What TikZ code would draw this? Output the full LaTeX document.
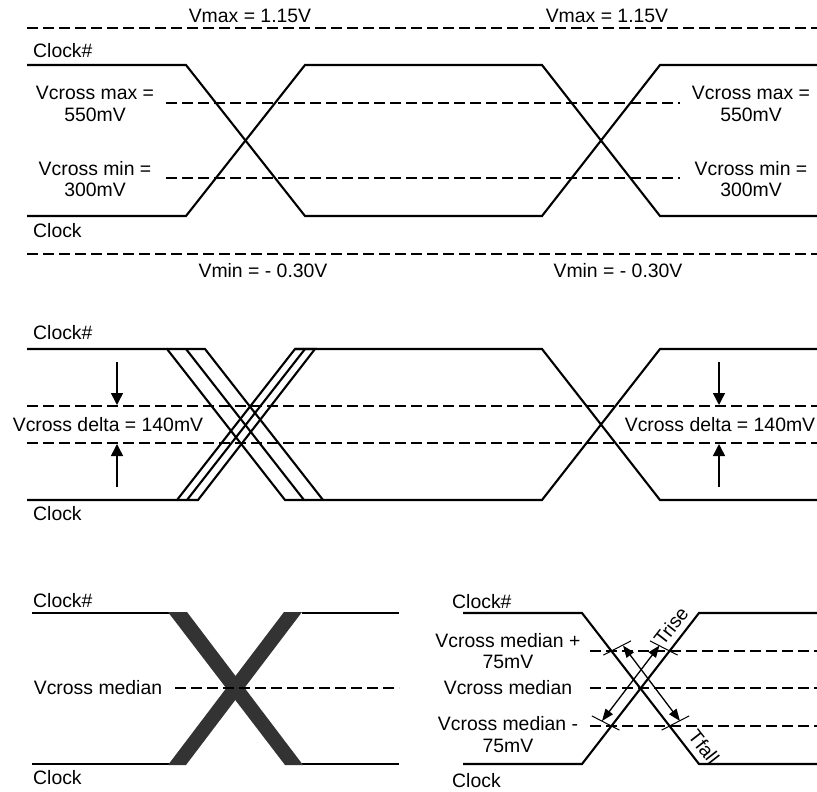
\documentclass[tikz,border=0pt]{standalone}
\usepackage{fontspec}
\setmainfont{Liberation Sans}
\usetikzlibrary{arrows.meta}
\begin{document}
\begin{tikzpicture}[x=1pt,y=-1pt,
  sig/.style={line width=2.1pt, line join=miter},
  lvl/.style={line width=2.4pt, dash pattern=on 10.5pt off 5.5pt},
  lbl/.style={font=\fontsize{19.4}{21.5}\selectfont, inner sep=0pt, align=center},
  lblw/.style={lbl, anchor=west},
  vdim/.style={line width=1.5pt, -{Triangle[length=12pt,width=12pt]}},
  tdim/.style={line width=1.3pt, {Triangle[length=12pt,width=9pt]}-{Triangle[length=12pt,width=9pt]}},
  tick/.style={line width=1pt},
  band/.style={fill=black!80, draw=none}
]
\useasboundingbox (0,0) rectangle (817,792);

% ================= TOP =================
\coordinate (t-vmaxL) at (27,28);   \coordinate (t-vmaxR) at (817,28);
\coordinate (t-vminL) at (27,254);  \coordinate (t-vminR) at (817,254);
\coordinate (t-cmaxL) at (166,103); \coordinate (t-cmaxR) at (680,103);
\coordinate (t-cminL) at (166,178); \coordinate (t-cminR) at (680,178);
\draw[lvl] (t-vmaxL) -- (t-vmaxR);
\draw[lvl] (t-vminL) -- (t-vminR);
\draw[lvl] (t-cmaxL) -- (t-cmaxR);
\draw[lvl] (t-cminL) -- (t-cminR);

\coordinate (t-h0) at (27,65);  \coordinate (t-h1) at (186,65);
\coordinate (t-l2) at (305,216); \coordinate (t-l3) at (542,216);
\coordinate (t-h4) at (660,65); \coordinate (t-h5) at (817,65);
\coordinate (t-l0) at (27,216); \coordinate (t-l1) at (186,216);
\coordinate (t-h2) at (305,65); \coordinate (t-h3) at (542,65);
\coordinate (t-l4) at (660,216); \coordinate (t-l5) at (817,216);
\draw[sig] (t-h0) -- (t-h1) -- (t-l2) -- (t-l3) -- (t-h4) -- (t-h5);
\draw[sig] (t-l0) -- (t-l1) -- (t-h2) -- (t-h3) -- (t-l4) -- (t-l5);

\node[lbl] (t-vmax1) at (250,15.5) {Vmax = 1.15V};
\node[lbl] (t-vmax2) at (607,15.5) {Vmax = 1.15V};
\node[lbl] (t-vmin1) at (263,271) {Vmin = - 0.30V};
\node[lbl] (t-vmin2) at (618,271) {Vmin = - 0.30V};
\node[lblw] (t-clkn) at (33,51) {Clock\#};
\node[lblw] (t-clk) at (33,231) {Clock};
\node[lbl] (t-xmax1) at (95,104) {Vcross max =\\550mV};
\node[lbl] (t-xmin1) at (95,179) {Vcross min =\\300mV};
\node[lbl] (t-xmax2) at (751,104) {Vcross max =\\550mV};
\node[lbl] (t-xmin2) at (751,179) {Vcross min =\\300mV};

% ================= MIDDLE =================
\coordinate (m-dhL) at (27,406); \coordinate (m-dhR) at (817,406);
\coordinate (m-dlL) at (27,443); \coordinate (m-dlR) at (817,443);
\draw[lvl] (m-dhL) -- (m-dhR);
\draw[lvl] (m-dlL) -- (m-dlR);

% Clock# (falling first)
\coordinate (m-a0) at (27,349);  \coordinate (m-a1) at (167,349);
\coordinate (m-a2) at (285,500); \coordinate (m-a3) at (542,500);
\coordinate (m-a4) at (660,349); \coordinate (m-a5) at (817,349);
\coordinate (m-ae) at (205,349);
\coordinate (m-f1s) at (186,349); \coordinate (m-f1e) at (304,500);
\coordinate (m-f2e) at (323,500);
\draw[sig] (m-a0) -- (m-a1) -- (m-a2) -- (m-a3) -- (m-a4) -- (m-a5);
\draw[sig] (m-a1) -- (m-ae) -- (m-f2e);
\draw[sig] (m-f1s) -- (m-f1e);
% Clock (rising first)
\coordinate (m-b0) at (27,500);  \coordinate (m-b1) at (177,500);
\coordinate (m-b2) at (295,349); \coordinate (m-b3) at (542,349);
\coordinate (m-b4) at (660,500); \coordinate (m-b5) at (817,500);
\coordinate (m-be) at (198,500);
\coordinate (m-r1s) at (187,500); \coordinate (m-r1e) at (305,349);
\coordinate (m-r2e) at (315,349);
\draw[sig] (m-b0) -- (m-b1) -- (m-b2) -- (m-b3) -- (m-b4) -- (m-b5);
\draw[sig] (m-b1) -- (m-be) -- (m-r2e) -- (m-b2);
\draw[sig] (m-r1s) -- (m-r1e);

% arrows
\coordinate (m-d1s) at (117,362); \coordinate (m-d1e) at (117,405);
\coordinate (m-u1s) at (117,487); \coordinate (m-u1e) at (117,444);
\coordinate (m-d2s) at (719,362); \coordinate (m-d2e) at (719,405);
\coordinate (m-u2s) at (719,487); \coordinate (m-u2e) at (719,444);
\draw[vdim] (m-d1s) -- (m-d1e);
\draw[vdim] (m-u1s) -- (m-u1e);
\draw[vdim] (m-d2s) -- (m-d2e);
\draw[vdim] (m-u2s) -- (m-u2e);

\node[lblw] (m-clkn) at (33,333) {Clock\#};
\node[lblw] (m-clk) at (33,514) {Clock};
\node[lbl] (m-delta1) at (108,425) {Vcross delta = 140mV};
\node[lbl] (m-delta2) at (720,425) {Vcross delta = 140mV};

% ================= BOTTOM LEFT =================
\coordinate (bl-h0) at (32,613);  \coordinate (bl-h1) at (170,613);
\coordinate (bl-h2) at (302,613); \coordinate (bl-h3) at (399,613);
\coordinate (bl-l0) at (32,764);  \coordinate (bl-l1) at (170,764);
\coordinate (bl-l2) at (302,764); \coordinate (bl-l3) at (399,764);
\draw[sig] (bl-h0) -- (bl-h1);
\draw[sig] (bl-h2) -- (bl-h3);
\draw[sig] (bl-l0) -- (bl-l1);
\draw[sig] (bl-l2) -- (bl-l3);
\fill[band] (168,612) -- (187,612) -- (303,765) -- (285,765) -- cycle;
\fill[band] (284,612) -- (302,612) -- (186,765) -- (168,765) -- cycle;
\coordinate (bl-mL) at (175,688); \coordinate (bl-mR) at (399,688);
\draw[lvl] (bl-mL) -- (bl-mR);
\node[lblw] (bl-clkn) at (33,601) {Clock\#};
\node[lblw] (bl-clk) at (33,778) {Clock};
\node[lbl] (bl-med) at (98,688) {Vcross median};

% ================= BOTTOM RIGHT =================
\coordinate (br-pL) at (590,651); \coordinate (br-pR) at (817,651);
\coordinate (br-mL) at (590,688); \coordinate (br-mR) at (817,688);
\coordinate (br-nL) at (590,726); \coordinate (br-nR) at (817,726);
\draw[lvl] (br-pL) -- (br-pR);
\draw[lvl] (br-mL) -- (br-mR);
\draw[lvl] (br-nL) -- (br-nR);

\coordinate (br-h0) at (463,613); \coordinate (br-h1) at (582,613);
\coordinate (br-l2) at (699,764); \coordinate (br-l3) at (817,764);
\coordinate (br-l0) at (463,764); \coordinate (br-l1) at (582,764);
\coordinate (br-h2) at (699,613); \coordinate (br-h3) at (817,613);
\draw[sig] (br-h0) -- (br-h1) -- (br-l2) -- (br-l3);
\draw[sig] (br-l0) -- (br-l1) -- (br-h2) -- (br-h3);

% ticks
\coordinate (tk1a) at (603.4,655.1); \coordinate (tk1b) at (631,640.9);
\coordinate (tk2a) at (677.6,655.1); \coordinate (tk2b) at (650,640.9);
\coordinate (tk3a) at (619.4,730.1); \coordinate (tk3b) at (591.8,715.9);
\coordinate (tk4a) at (661.6,730.1); \coordinate (tk4b) at (689.2,715.9);
\draw[tick] (tk1a) -- (tk1b);
\draw[tick] (tk2a) -- (tk2b);
\draw[tick] (tk3a) -- (tk3b);
\draw[tick] (tk4a) -- (tk4b);

\coordinate (fall-s) at (623,645.5); \coordinate (fall-e) at (680,721);
\coordinate (rise-s) at (602,721);   \coordinate (rise-e) at (659.5,645.5);
\draw[tdim] (fall-s) -- (fall-e);
\draw[tdim] (rise-s) -- (rise-e);

\node[lbl, rotate=52] (br-trise) at (671,626) {Trise};
\node[lbl, rotate=-52] (br-tfall) at (704,747) {Tfall};

\node[lblw] (br-clkn) at (452,602) {Clock\#};
\node[lblw] (br-clk) at (452,781) {Clock};
\node[lbl] (br-plus) at (508,651) {Vcross median +\\75mV};
\node[lbl] (br-med) at (508,688) {Vcross median};
\node[lbl] (br-minus) at (508,734.5) {Vcross median -\\75mV};
\end{tikzpicture}
\end{document}
